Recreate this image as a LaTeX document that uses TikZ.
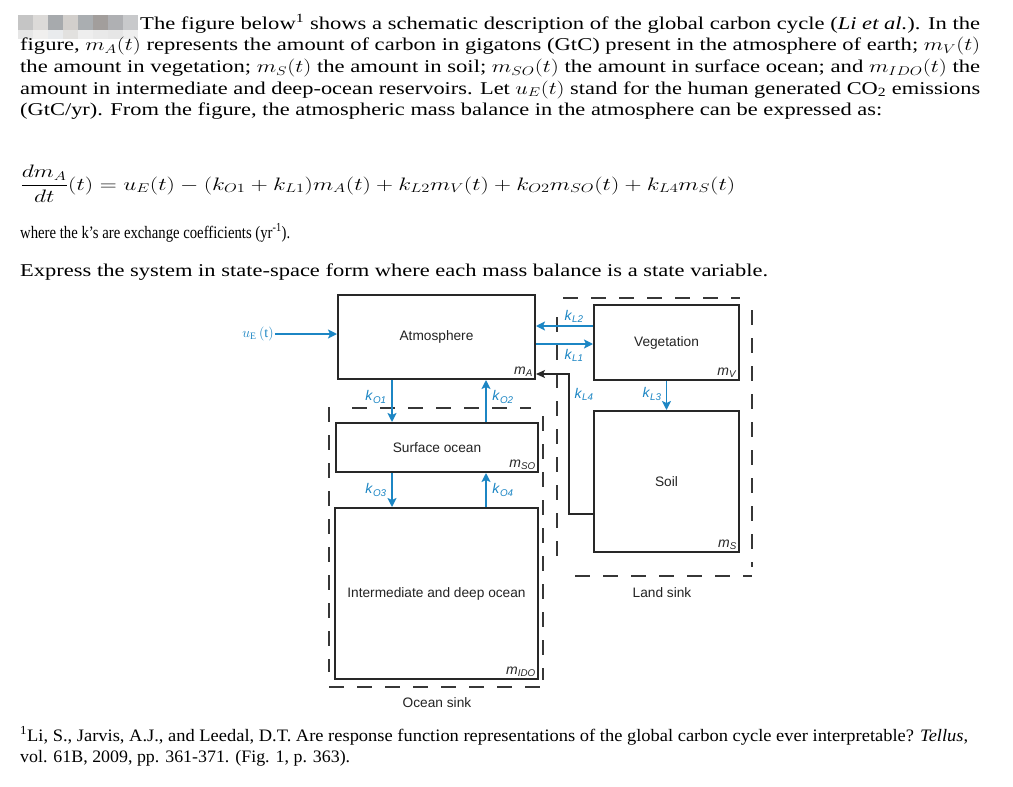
\RequirePackage{fix-cm}
\documentclass[tikz,border=0pt]{standalone}
\usepackage{fontspec}
\setmainfont{Liberation Serif}
\setsansfont{Liberation Sans}
\usepackage{graphicx}
\usetikzlibrary{arrows.meta,calc}
\definecolor{kblue}{RGB}{28,134,196}
\definecolor{boxc}{RGB}{40,40,40}
\definecolor{dashc}{RGB}{55,55,55}
\definecolor{txtc}{RGB}{35,35,35}
\newcommand\kk[1]{\textit{k}\textsubscript{\textit{#1}}}
\newcommand\mm[1]{\textit{m}\textsubscript{\textit{#1}}}
\newcommand\fitline[2]{\resizebox{#1}{\height}{#2}}
\begin{document}
\begin{tikzpicture}[x=1pt,y=-1pt,
  box/.style={draw=boxc, line width=2pt, inner sep=0pt, font=\sffamily\fontsize{13.7}{16}\selectfont, text=txtc},
  sink/.style={draw=dashc, line width=1.8pt, dash pattern=on 15pt off 13pt},
  flow/.style={draw=kblue, line width=1.6pt, -{Stealth[length=9pt,width=9pt,inset=2pt]}},
  back/.style={draw=boxc, line width=1.4pt, -{Stealth[length=9pt,width=8pt,inset=2pt]}},
  klab/.style={text=kblue, font=\sffamily\fontsize{14}{16}\selectfont, inner sep=0pt},
  mlab/.style={text=boxc, font=\sffamily\fontsize{14}{16}\selectfont, inner sep=0pt, anchor=south east},
  lab/.style={text=txtc, font=\sffamily\fontsize{13.7}{16}\selectfont, inner sep=0pt},
  para/.style={anchor=base west, inner sep=0pt, font=\fontsize{18}{21}\selectfont},
  small/.style={anchor=base west, inner sep=0pt, font=\fontsize{17.5}{20}\selectfont},
]
\useasboundingbox[fill=white] (0,0) rectangle (1013,787);

% blurred block
\foreach \c [count=\i from 0] in {C5C5C5,DCDAD8,A7AAAD,D2CFCC,AAAEB1,A29E9C,AFB0B3,C8C9CB}{
  \definecolor{cc}{HTML}{\c}
  \fill[cc] (18+15*\i,15) rectangle (33+15*\i,30);
}
\foreach \c [count=\i from 0] in {E6E6E6,F0EFEE,E9EBED,E2E1DF,EEEEEE,E9E9E9,E6E6E6,EEEEEE}{
  \definecolor{cc}{HTML}{\c}
  \fill[cc] (18+15*\i,30) rectangle (33+15*\i,39);
}

% paragraph
\node[para] (l1) at (140,29.5) {\fitline{840pt}{The figure below\textsuperscript{1} shows a schematic description of the global carbon cycle (\textit{Li et al.}). In the}};
\node[para] (l2) at (20,51) {\fitline{960pt}{figure, $m_A(t)$ represents the amount of carbon in gigatons (GtC) present in the atmosphere of earth; $m_V(t)$}};
\node[para] (l3) at (20,72.5) {\fitline{960pt}{the amount in vegetation; $m_S(t)$ the amount in soil; $m_{SO}(t)$ the amount in surface ocean; and $m_{IDO}(t)$ the}};
\node[para] (l4) at (20,94) {\fitline{960pt}{amount in intermediate and deep-ocean reservoirs. Let $u_E(t)$ stand for the human generated CO\textsubscript{2} emissions}};
\node[para] (l5) at (20,115.5) {\fitline{862pt}{(GtC/yr). From the figure, the atmospheric mass balance in the atmosphere can be expressed as:}};

\node[para] (eq) at (20,190) {\fitline{715pt}{$\displaystyle\frac{dm_A}{dt}(t)=u_E(t)-(k_{O1}+k_{L1})m_A(t)+k_{L2}m_V(t)+k_{O2}m_{SO}(t)+k_{L4}m_S(t)$}};

\node[small] (wh) at (20,238) {\fitline{270pt}{where the k's are exchange coefficients (yr\textsuperscript{-1}).}};
\node[para] (ex) at (20,276) {\fitline{748pt}{Express the system in state-space form where each mass balance is a state variable.}};

% diagram boxes
\node[box, minimum width=197pt, minimum height=84pt] (atm) at (436.5,337) {Atmosphere};
\node[box, minimum width=202pt, minimum height=49pt] (so) at (437,447.5) {Surface ocean};
\node[box, minimum width=203pt, minimum height=171pt] (ido) at (436.5,593.5) {Intermediate and deep ocean};
\node[box, minimum width=145pt, minimum height=75pt] (veg) at (666.5,342.5) {Vegetation};
\node[box, minimum width=145pt, minimum height=141pt] (soil) at (666.5,481.5) {Soil};

\node[mlab] (mA) at ($(atm.south east)+(-3,-3)$) {\mm{A}};
\node[mlab] (mSO) at ($(so.south east)+(-3,-3)$) {\mm{SO}};
\node[mlab] (mIDO) at ($(ido.south east)+(-3,-3)$) {\mm{IDO}};
\node[mlab] (mV) at ($(veg.south east)+(-3,-3)$) {\mm{V}};
\node[mlab] (mS) at ($(soil.south east)+(-3,-3)$) {\mm{S}};

% sinks
\draw[sink] (352,408) -- (531,408);
\draw[sink] (329,407) -- (329,672);
\draw[sink] (543,416) -- (543,680);
\draw[sink] (329,687) -- (543,687);
\draw[sink] (563,298) -- (740,298);
\draw[sink] (557,317) -- (557,568);
\draw[sink] (752,310) -- (752,567);
\draw[sink] (575,576) -- (752,576);
\node[lab] (osink) at (437,703) {Ocean sink};
\node[lab] (lsink) at (662,593) {Land sink};

% coordinates
\coordinate (xO1) at (392,0);
\coordinate (xO2) at (486,0);
\coordinate (yL2) at (0,326);
\coordinate (yL1) at (0,344);
\coordinate (yL4) at (0,514);
\coordinate (cL4) at (569,374);

% input
\node[text=kblue, inner sep=1pt, font=\fontsize{14}{16}\selectfont] (uE) at (258,334) {$u_{\mathrm{E}}\,(\mathrm{t})$};
\draw[flow] (uE.east) -- (atm.west |- uE.east);

% ocean flows
\draw[flow] (atm.south -| xO1) -- (so.north -| xO1);
\draw[flow] (so.north -| xO2) -- (atm.south -| xO2);
\draw[flow] (so.south -| xO1) -- (ido.north -| xO1);
\draw[flow] (ido.north -| xO2) -- (so.south -| xO2);
\node[klab] (kO1) at (376,397) {\kk{O1}};
\node[klab] (kO2) at (503,397) {\kk{O2}};
\node[klab] (kO3) at (376,490) {\kk{O3}};
\node[klab] (kO4) at (503,490) {\kk{O4}};

% land flows
\draw[flow] (veg.west |- yL2) -- (atm.east |- yL2);
\draw[flow] (atm.east |- yL1) -- (veg.west |- yL1);
\draw[flow] (veg.south) -- (soil.north);
\draw[back] (soil.west |- yL4) -| (cL4) -- (atm.east |- cL4);
\node[klab] (kL2) at (574,316) {\kk{L2}};
\node[klab] (kL1) at (574,355) {\kk{L1}};
\node[klab] (kL4) at (584,394) {\kk{L4}};
\node[klab] (kL3) at (652,394) {\kk{L3}};

% footnote
\node[small] (f1) at (20,741) {\fitline{948pt}{\textsuperscript{1}Li, S., Jarvis, A.J., and Leedal, D.T. Are response function representations of the global carbon cycle ever interpretable? \textit{Tellus},}};
\node[small] (f2) at (20,762) {\fitline{330pt}{vol. 61B, 2009, pp. 361-371. (Fig. 1, p. 363).}};
\end{tikzpicture}
\end{document}
